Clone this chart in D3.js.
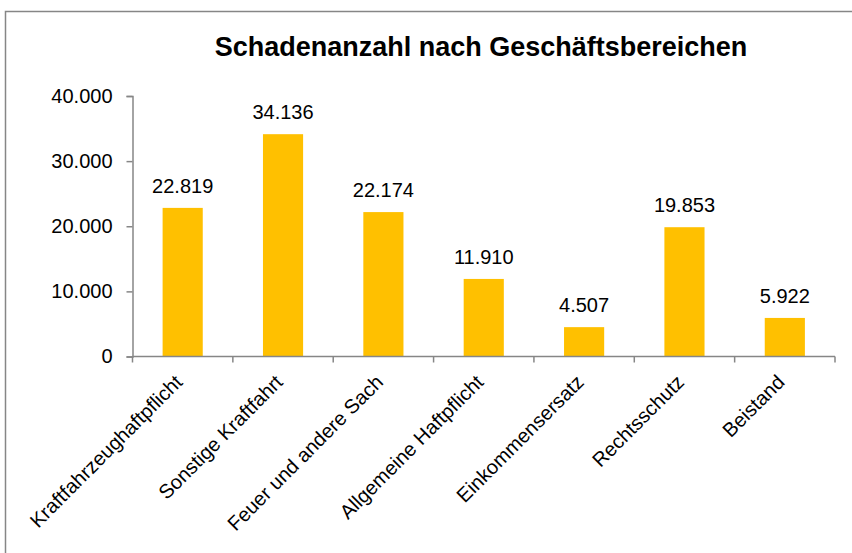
<!DOCTYPE html>
<html>
<head>
<meta charset="utf-8">
<script src="https://cdn.jsdelivr.net/npm/d3@7"></script>
<style>
  body { margin: 0; background: #fff; }
  svg { display: block; font-family: "Liberation Sans", Arial, sans-serif; }
  .axis path, .axis line { stroke: #868686; stroke-width: 1.5; }
  .axis text { fill: #000; font-size: 20px; }
</style>
</head>
<body>
<div id="chart"></div>
<script>
/* data */
var categories = ["Kraftfahrzeughaftpflicht", "Sonstige Kraftfahrt", "Feuer und andere Sach",
  "Allgemeine Haftpflicht", "Einkommensersatz", "Rechtsschutz", "Beistand"];
var values = [22819, 34136, 22174, 11910, 4507, 19853, 5922];
var yTicks = [0, 10000, 20000, 30000, 40000];
var title = "Schadenanzahl nach Geschäftsbereichen";

var width = 852, height = 553;
var margin = {left: 132.5, right: 17, top: 96, bottom: 196.5};

var svg = d3.select("#chart").append("svg")
  .attr("width", width).attr("height", height);

// outer frame (cut off at right and bottom)
svg.append("rect")
  .attr("x", 5.5).attr("y", 11.5)
  .attr("width", 900).attr("height", 700)
  .attr("fill", "none").attr("stroke", "#868686").attr("stroke-width", 1.5);

svg.append("text")
  .attr("x", 481).attr("y", 56)
  .attr("text-anchor", "middle")
  .style("font-size", "27px").style("font-weight", "bold")
  .text(title);

var x = d3.scaleBand()
  .domain(categories)
  .range([margin.left, width - margin.right])
  .paddingInner(0.6).paddingOuter(0.3);

var y = d3.scaleLinear()
  .domain([0, 40000])
  .range([height - margin.bottom, margin.top]);

var fmt = function(d) { return d3.format(",")(d).replace(/,/g, "."); };

// y axis
var yAxis = svg.append("g")
  .attr("class", "axis")
  .attr("transform", "translate(" + margin.left + ",0)")
  .call(d3.axisLeft(y).tickValues(yTicks).tickFormat(fmt).tickSizeOuter(0).tickSize(6).tickPadding(14));

// bars
svg.append("g").selectAll("rect")
  .data(values)
  .enter().append("rect")
  .attr("x", function(d, i) { return x(categories[i]); })
  .attr("y", function(d) { return y(d); })
  .attr("width", x.bandwidth())
  .attr("height", function(d) { return y(0) - y(d); })
  .attr("fill", "#FFC000");

// value labels
svg.append("g").selectAll("text")
  .data(values)
  .enter().append("text")
  .attr("x", function(d, i) { return x(categories[i]) + x.bandwidth() / 2; })
  .attr("y", function(d) { return y(d) - 15; })
  .attr("text-anchor", "middle")
  .style("font-size", "20px")
  .text(fmt);

// x axis: ticks between categories
var x0 = margin.left, x1 = width - margin.right;
var xAxis = svg.append("g")
  .attr("class", "axis")
  .attr("transform", "translate(0," + y(0) + ")");

xAxis.append("line")
  .attr("x1", x0).attr("x2", x1)
  .attr("y1", 0).attr("y2", 0);

xAxis.selectAll("line.tick")
  .data(d3.range(categories.length + 1))
  .enter().append("line")
  .attr("class", "tick")
  .attr("x1", function(i) { return x0 + i * (x1 - x0) / categories.length; })
  .attr("x2", function(i) { return x0 + i * (x1 - x0) / categories.length; })
  .attr("y1", 0).attr("y2", 6);

xAxis.selectAll("text")
  .data(categories)
  .enter().append("text")
  .attr("text-anchor", "end")
  .attr("transform", function(d) {
    return "translate(" + (x(d) + x.bandwidth() / 2 - 4) + ",22) rotate(-45)";
  })
  .attr("dy", "0.35em")
  .text(function(d) { return d; });
</script>
</body>
</html>
